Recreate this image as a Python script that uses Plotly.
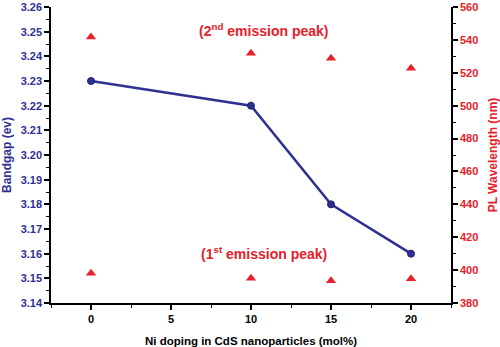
import plotly.graph_objects as go

ni_doping = [0, 10, 15, 20]
bandgap = [3.23, 3.22, 3.18, 3.16]
pl_peak2 = [541.8, 531.8, 528.8, 522.7]
pl_peak1 = [398.1, 395.0, 393.6, 394.8]

BLUE = "#2E3192"
RED = "#E8202A"
FONT = "Liberation Sans, Arial, sans-serif"

fig = go.Figure()
fig.add_trace(go.Scatter(
    x=ni_doping, y=bandgap, mode="lines+markers",
    line=dict(color=BLUE, width=2.5),
    marker=dict(symbol="circle", size=7, color=BLUE, line=dict(color="#1b1f6b", width=1)),
    xaxis="x", yaxis="y", showlegend=False, cliponaxis=False))
fig.add_trace(go.Scatter(
    x=ni_doping, y=pl_peak2, mode="markers",
    marker=dict(symbol="triangle-up", size=9, color=RED),
    xaxis="x", yaxis="y2", showlegend=False, cliponaxis=False))
fig.add_trace(go.Scatter(
    x=ni_doping, y=pl_peak1, mode="markers",
    marker=dict(symbol="triangle-up", size=9, color=RED),
    xaxis="x", yaxis="y2", showlegend=False, cliponaxis=False))

fig.update_layout(
    width=500, height=347,
    margin=dict(l=51, r=49, t=7, b=44),
    paper_bgcolor="white", plot_bgcolor="white",
    font=dict(family=FONT, size=11, color="black"),
    xaxis=dict(
        range=[-2.5, 22.5], tickvals=[0, 5, 10, 15, 20], automargin=False,
        ticks="outside", ticklen=5, tickwidth=1.5, tickcolor="black",
        minor=dict(ticks="outside", ticklen=3, dtick=2.5, tick0=0, tickcolor="black", tickwidth=1.2),
        showline=True, linecolor="black", linewidth=1.5, showgrid=False, zeroline=False,
        tickfont=dict(family=FONT, size=11, color="black", weight="bold"),
        title=dict(text="Ni doping in CdS nanoparticles (mol%)", standoff=15,
                   font=dict(family=FONT, size=11.5, color="black", weight="bold")),
        anchor="y"),
    xaxis2=dict(
        range=[-2.5, 22.5], overlaying="x", side="top", anchor="y", automargin=False,
        tickvals=[-2.5, 0, 2.5, 5, 7.5, 10, 12.5, 15, 17.5, 20, 22.5],
        ticks="inside", ticklen=4, tickwidth=1.2, tickcolor="black",
        showticklabels=False, showline=True, linecolor="black", linewidth=1.5,
        showgrid=False, zeroline=False),
    yaxis=dict(
        range=[3.14, 3.26], dtick=0.01, tickformat=".2f", automargin=False,
        ticks="outside", ticklen=5, tickwidth=1.5, tickcolor="black",
        minor=dict(ticks="outside", ticklen=3, dtick=0.005, tickcolor="black", tickwidth=1.2),
        showline=True, linecolor="black", linewidth=1.5, showgrid=False, zeroline=False,
        tickfont=dict(family=FONT, size=11, color=BLUE, weight="bold"),
        title=dict(text="Bandgap (ev)", standoff=6,
                   font=dict(family=FONT, size=12, color=BLUE, weight="bold"))),
    yaxis2=dict(
        range=[380, 560], dtick=20, overlaying="y", side="right", anchor="x", automargin=False,
        ticks="outside", ticklen=5, tickwidth=1.5, tickcolor="black",
        minor=dict(ticks="outside", ticklen=3, dtick=10, tickcolor="black", tickwidth=1.2),
        showline=True, linecolor="black", linewidth=1.5, showgrid=False, zeroline=False,
        tickfont=dict(family=FONT, size=11, color=RED, weight="bold"),
        title=dict(text="PL Wavelength (nm)", standoff=15,
                   font=dict(family=FONT, size=12, color=RED, weight="bold"))),
    annotations=[
        dict(text="(2<sup>nd</sup> emission peak)", x=10.8, y=546, xref="x", yref="y2",
             showarrow=False, font=dict(family=FONT, size=14, color=RED, weight="bold")),
        dict(text="(1<sup>st</sup> emission peak)", x=10.8, y=410.4, xref="x", yref="y2",
             showarrow=False, font=dict(family=FONT, size=14, color=RED, weight="bold")),
    ],
)

fig.write_html("out.html")
